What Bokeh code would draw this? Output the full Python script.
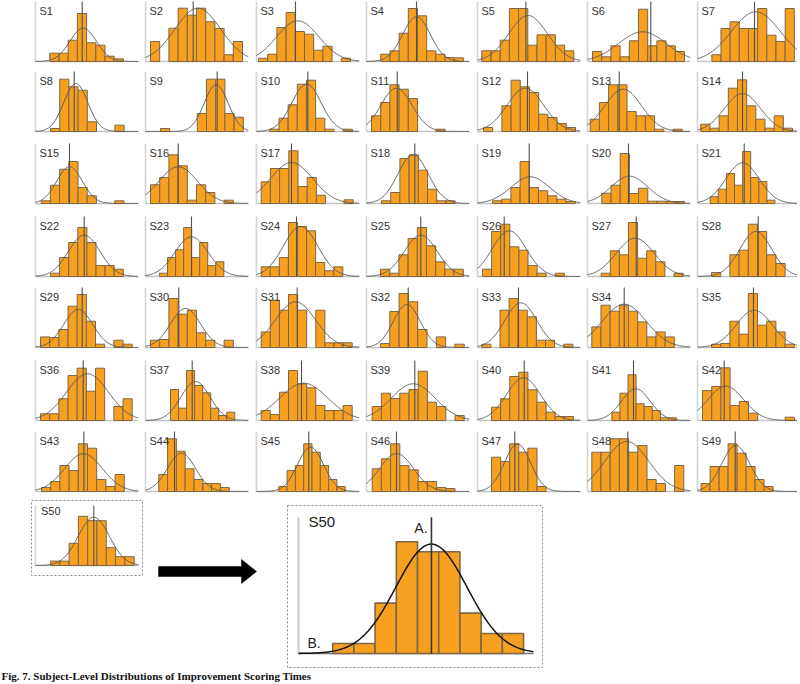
import numpy as np
from bokeh.plotting import figure
from bokeh.layouts import row, column
from bokeh.models import Range1d, Spacer
from bokeh.embed import file_html
from bokeh.resources import INLINE
from bokeh.core.properties import value

# ---------------- data (x in axis units, y in bar-height units) -------------
subjects = ["S%d" % i for i in range(1, 51)]

bar_start = [14.3, 5, 2, 14.3, 4.3, 5, 14.3,
             15, 15, 13.3, 5, 6, 2.7, 3.3,
             5.7, 5, 4.7, 15, 15, 14.3, 12.7,
             15, 14, 4.7, 14, 5, 13.7, 14,
             5, 5, 4.7, 14, 4.3, 4.3, 14,
             5, 25, 4.7, 5.7, 14, 24.3, 5,
             6, 13.3, 22.3, 5.7, 14, 4.3, 3.6,
             15]
bar_width = [9.2, 9.2, 9.2, 9.17, 9.2, 9.2, 9.17,
             9.2, 9.2, 9.17, 9.2, 9.2, 9.2, 9.17,
             9.2, 9.2, 9.2, 9.2, 9.2, 9.2, 8.1,
             9.1, 8.04, 9.07, 9.2, 9.1, 9.1, 9.2,
             9.17, 9.2, 9.1, 9.3, 9.1, 9.17, 9.2,
             9.17, 8.04, 9.1, 9.2, 9.1, 8.1, 9.2,
             9.2, 8.8, 8.3, 9.2, 9.1, 9.2, 9.0,
             9.3]
median_line = [46.7, 47.7, 39, 50, 48.4, 63.3, 57,
               38.7, 71.7, 51.3, 30.7, 50, 31.7, 45,
               34, 32.7, 35, 48.3, 51.7, 41, 46.7,
               48.7, 46, 40, 54.3, 26.7, 48.7, 60.7,
               46.7, 33.3, 40.7, 41.7, 41, 36.7, 56,
               47.7, 46.7, 45, 48.3, 46.7, 46, 26.7,
               48.4, 29, 52.3, 30, 37.3, 40.3, 37.7,
               58.3]
curve_mean = [47.7, 52.3, 41.3, 50, 50.6, 55, 58.3,
              40.3, 70.7, 50, 30, 47.8, 35.7, 45,
              34, 32.7, 35, 46.6, 52.7, 42, 45,
              48.7, 46, 44, 54.3, 31.7, 47.7, 58.3,
              42.7, 40, 39, 40.3, 43.3, 36.7, 56.7,
              52, 50, 47.3, 46.7, 46, 48.3, 28.3,
              48, 36, 54, 30, 40, 39.3, 38.3,
              58.3]
curve_sd = [13.3, 23, 21.2, 13.8, 19.3, 23.9, 24.4,
            12, 12, 14.7, 15.6, 18.4, 18.4, 18,
            12.9, 19.3, 21.2, 15.2, 19.3, 18.4, 16.7,
            15.8, 16.7, 17.3, 16.5, 17, 19, 16,
            14.5, 15, 20, 13.5, 16, 22, 18,
            21, 14.5, 24, 22, 17, 14.5, 18,
            19, 14, 13, 17, 13, 22, 14,
            15.6]
curve_peak = [33.3, 53.3, 40.7, 44.7, 46, 29.7, 49.7,
              48, 46.7, 47.3, 43.3, 43.3, 42.3, 38,
              36.7, 36.7, 41, 48.7, 26.7, 27.3, 40.7,
              41.3, 39.7, 50, 41.3, 45.7, 38.3, 45,
              38, 39, 45.7, 43, 44.7, 43.3, 37.3,
              46.7, 39, 37.3, 36.7, 42.7, 31.7, 34.3,
              37.7, 38.3, 44.3, 38, 47.7, 50, 46,
              48.2]

h01 = [8.3, 8.3, 21.3, 48, 18.7, 16.3, 5.3, 2.7]
h02 = [20, 0, 33.3, 53.3, 46.3, 53.3, 39.7, 33, 6.7, 20]
h03 = [3.3, 7.3, 34, 49, 30, 27.3, 11.3, 15.3, 0, 3.3]
h04 = [7.3, 10.7, 28.3, 53, 45.7, 10.7, 7.3, 4, 3.7]
h05 = [10.7, 10.7, 21.3, 53, 53, 16.3, 26.7, 26.7, 16.3, 10.7]
h06 = [10, 4.7, 15.7, 4.7, 20.7, 52.3, 15.7, 20.7, 15.7, 10]
h07 = [6.7, 33, 39.7, 33, 33, 53, 26.3, 20, 53]
h08 = [3, 52.3, 44.7, 41.3, 9.7, 0, 0, 6.3]
h09 = [3, 0, 0, 0, 18, 52.3, 52.3, 18, 14.3]
h10 = [2.3, 13.3, 26.7, 47.3, 51.3, 13.3, 2.3, 0, 2.3]
h11 = [15.7, 29, 46.7, 42.3, 33, 0, 0, 2.3]
h12 = [4, 0, 25.7, 51.3, 44.7, 39, 17.3, 14, 8, 4]
h13 = [12.3, 29, 46.7, 46.7, 20, 15.7, 15.7, 2.3, 0, 2.3]
h14 = [7.3, 3.3, 15.7, 43.3, 51.7, 25.7, 12.3, 3.3, 15.7, 3.3]
h15 = [2.7, 18.3, 34.3, 42, 16, 7.7, 0, 0, 2.7]
h16 = [18.7, 26, 48.7, 37.7, 3.3, 18.7, 11, 0, 3.3]
h17 = [21.7, 35, 35, 52.7, 17, 26, 8.3, 0, 0, 3.7]
h18 = [2.7, 11, 45, 48.7, 33.3, 14.3, 2.7, 2.7]
h19 = [2.7, 4.3, 16, 42, 16, 12.7, 7.7, 4.3, 2]
h20 = [10.3, 18.3, 50, 10, 15.3, 2.3, 2.3, 2, 2]
h21 = [6.7, 14.3, 30, 18.3, 52, 26, 22, 3.3]
h22 = [3.3, 19, 34, 49, 34, 11, 11, 7.3]
h23 = [3.3, 19, 26.7, 49, 19, 34, 11, 14.7]
h24 = [9.7, 9.7, 19, 54, 50, 45.7, 14, 5.7, 9.7]
h25 = [7.3, 3.3, 21.7, 38, 49, 30.7, 14.7, 7.3, 7.3]
h26 = [7.3, 45, 52.3, 29.7, 26.3, 11, 3.3, 0, 3.3]
h27 = [3.3, 25.7, 21.7, 54, 18.3, 25.7, 14.7, 0, 3.3]
h28 = [4, 0, 21.7, 26.3, 52.3, 45, 21.7, 13]
h29 = [10.6, 10, 18, 41.3, 53, 26.3, 3.3, 0, 7.3, 3.3]
h30 = [7.3, 8, 49, 33.3, 37.3, 14.7, 7.3, 0, 7.3]
h31 = [15.6, 47.3, 37.3, 53, 37.3, 0, 37.3, 4.7, 4.7, 4.7]
h32 = [4, 36, 54, 45.7, 18, 0, 10.6, 0, 3.3]
h33 = [3.3, 0, 37.3, 49, 37.3, 30.7, 7.3, 7.3, 0, 3.3]
h34 = [20.6, 42.3, 36.3, 42.3, 36.3, 25.6, 10.6, 15.6, 10.6]
h35 = [3.3, 4, 26.3, 13.3, 54, 22.3, 26.3, 15.6, 3.3]
h36 = [6.7, 6.7, 21.7, 45, 52.3, 29.3, 52.3, 0, 14, 21.7]
h37 = [31, 12.3, 50, 35, 27.7, 12.3, 5, 8.3]
h38 = [10, 6, 28.3, 50, 36.7, 32.7, 15, 10, 10, 15]
h39 = [14, 27.3, 22, 27.3, 31, 49.3, 18.3, 14, 0, 5]
h40 = [13.3, 21.7, 44, 48.3, 30.7, 18.3, 8.3, 4, 4]
h41 = [8.3, 27.3, 45.7, 16.7, 14, 10, 2.7, 2.7]
h42 = [30, 34, 52.7, 15, 19, 7.3, 0, 0, 0, 3.3]
h43 = [4, 10, 26, 21, 47.7, 43.3, 12, 5, 17]
h44 = [17, 52.7, 40.3, 22.7, 12, 8, 8, 4]
h45 = [5, 21, 26, 47.7, 39.3, 26, 12, 5]
h46 = [22.7, 32.7, 47.7, 26, 21.7, 10, 10, 4, 3]
h47 = [34.3, 30, 47.7, 39.3, 43.3, 5]
h48 = [39.3, 39.3, 52.7, 52.7, 39.3, 46, 12, 8, 0, 26]
h49 = [8, 25, 25, 47.7, 38.3, 25, 12, 5]
h50 = [4.4, 4.4, 22.2, 49.2, 44.8, 44.8, 17.8, 8.8, 8.8]

bar_heights = [h01, h02, h03, h04, h05, h06, h07, h08, h09, h10,
               h11, h12, h13, h14, h15, h16, h17, h18, h19, h20,
               h21, h22, h23, h24, h25, h26, h27, h28, h29, h30,
               h31, h32, h33, h34, h35, h36, h37, h38, h39, h40,
               h41, h42, h43, h44, h45, h46, h47, h48, h49, h50]

caption = "Fig. 7. Subject-Level Distributions of Improvement Scoring Times"

# ---------------- styling / layout ----------------
PLOT_W = 103.0
PLOT_H = 60.0
ORANGE = "#F79F1F"
EDGE = "#7d6747"
FONT = value("Liberation Sans")


def base_fig(w, h, xr, yr, mb):
    p = figure(width=w, height=h, x_range=Range1d(*xr), y_range=Range1d(*yr),
               x_axis_type=None, y_axis_type=None, toolbar_location=None, tools="",
               output_backend="svg", title=None,
               min_border_left=mb[0], min_border_right=mb[1],
               min_border_top=mb[2], min_border_bottom=mb[3])
    p.outline_line_color = None
    p.background_fill_color = "white"
    p.border_fill_color = "white"
    return p


def draw_hist(p, i, big=False):
    hs = np.array(bar_heights[i], dtype=float)
    left = bar_start[i] + bar_width[i] * np.arange(len(hs))
    m = hs > 0
    # axes
    p.segment(x0=[0], y0=[0], x1=[0], y1=[PLOT_H], line_color="#d4d4d4",
              line_width=2.5 if big else 1.6)
    p.segment(x0=[0], y0=[0], x1=[PLOT_W], y1=[0],
              line_color="#777777" if big else "#c4c4c4", line_width=1.6)
    p.quad(left=left[m], right=left[m] + bar_width[i], bottom=0, top=hs[m],
           fill_color=ORANGE, line_color=EDGE, line_width=1.6 if big else 1.0)
    xs = np.linspace(0, PLOT_W, 200)
    ys = curve_peak[i] * np.exp(-0.5 * ((xs - curve_mean[i]) / curve_sd[i]) ** 2)
    p.line(xs, ys, line_color="#111111" if big else "#5a5a5a",
           line_width=1.5 if big else 1.0)
    p.segment(x0=[median_line[i]], y0=[0], x1=[median_line[i]], y1=[PLOT_H],
              line_color="#333333" if big else "#505050",
              line_width=1.6 if big else 1.1)


col_widths = [110, 111, 110, 111, 110, 110, 102]
row_heights = [70, 72, 73, 71, 73, 71, 69]

rows = []
for r in range(7):
    h = row_heights[r]
    kids = [Spacer(width=33, height=h)]
    for c in range(7):
        i = r * 7 + c
        w = col_widths[c]
        xr = (-2, 103) if c < 6 else (-2, 100)
        frame_w = 105 if c < 6 else 102
        p = base_fig(w, h, xr, (-2, 61), (0, w - frame_w, 0, h - 63))
        draw_hist(p, i)
        p.text(x=[4], y=[51], text=[subjects[i]], text_font=FONT, text_font_size="11px",
               text_baseline="middle", text_align="left", text_color="#333333")
        kids.append(p)
    rows.append(row(*kids, spacing=0))

# small S50 with dashed box
ps = base_fig(113, 77, (-4, 107), (-10, 65), (1, 1, 1, 1))
ps.outline_line_color = "#8c8c8c"
ps.outline_line_dash = "2 2"
ps.outline_line_width = 1
draw_hist(ps, 49)
ps.text(x=[5.5], y=[55], text=[subjects[49]], text_font=FONT, text_font_size="11px",
        text_baseline="middle", text_align="left", text_color="#333333")

# arrow
pa = base_fig(143, 169, (143, 286), (668, 499), (0, 0, 0, 0))
pa.patch(x=[158, 241, 241, 256, 241, 241, 158], y=[566, 566, 559, 571, 583, 576, 576],
         fill_color="black", line_color="black", line_width=0.5)

# big S50
pb = base_fig(257, 164, (-4.82, 107.0), (-6.17, 65.2), (1, 1, 1, 1))
pb.outline_line_color = "#8c8c8c"
pb.outline_line_dash = "2 2"
pb.outline_line_width = 1
draw_hist(pb, 49, big=True)
pb.text(x=[4.4], y=[58.1], text=[subjects[49]], text_font=FONT, text_font_size="15px",
        text_baseline="middle", text_align="left", text_color="#222222")
pb.text(x=[56.6], y=[55.5], text=["A."], text_font=FONT, text_font_size="14px",
        text_baseline="middle", text_align="right", text_color="#222222")
pb.text(x=[3.9], y=[4.8], text=["B."], text_font=FONT, text_font_size="14px",
        text_baseline="middle", text_align="left", text_color="#222222")

bottom = row(Spacer(width=30, height=169),
             column(ps, Spacer(width=113, height=92), spacing=0),
             pa,
             column(Spacer(width=257, height=5), pb, spacing=0),
             spacing=0)

pc = base_fig(800, 15, (0, 800), (683, 668), (0, 0, 0, 0))
pc.text(x=[1], y=[669.5], text=[caption], text_font=value("Liberation Serif"),
        text_font_style="bold", text_font_size="11px", text_baseline="top",
        text_align="left", text_color="#111111")

root = column(*rows, bottom, pc, spacing=0)

open("out.html", "w").write(file_html(root, INLINE))
